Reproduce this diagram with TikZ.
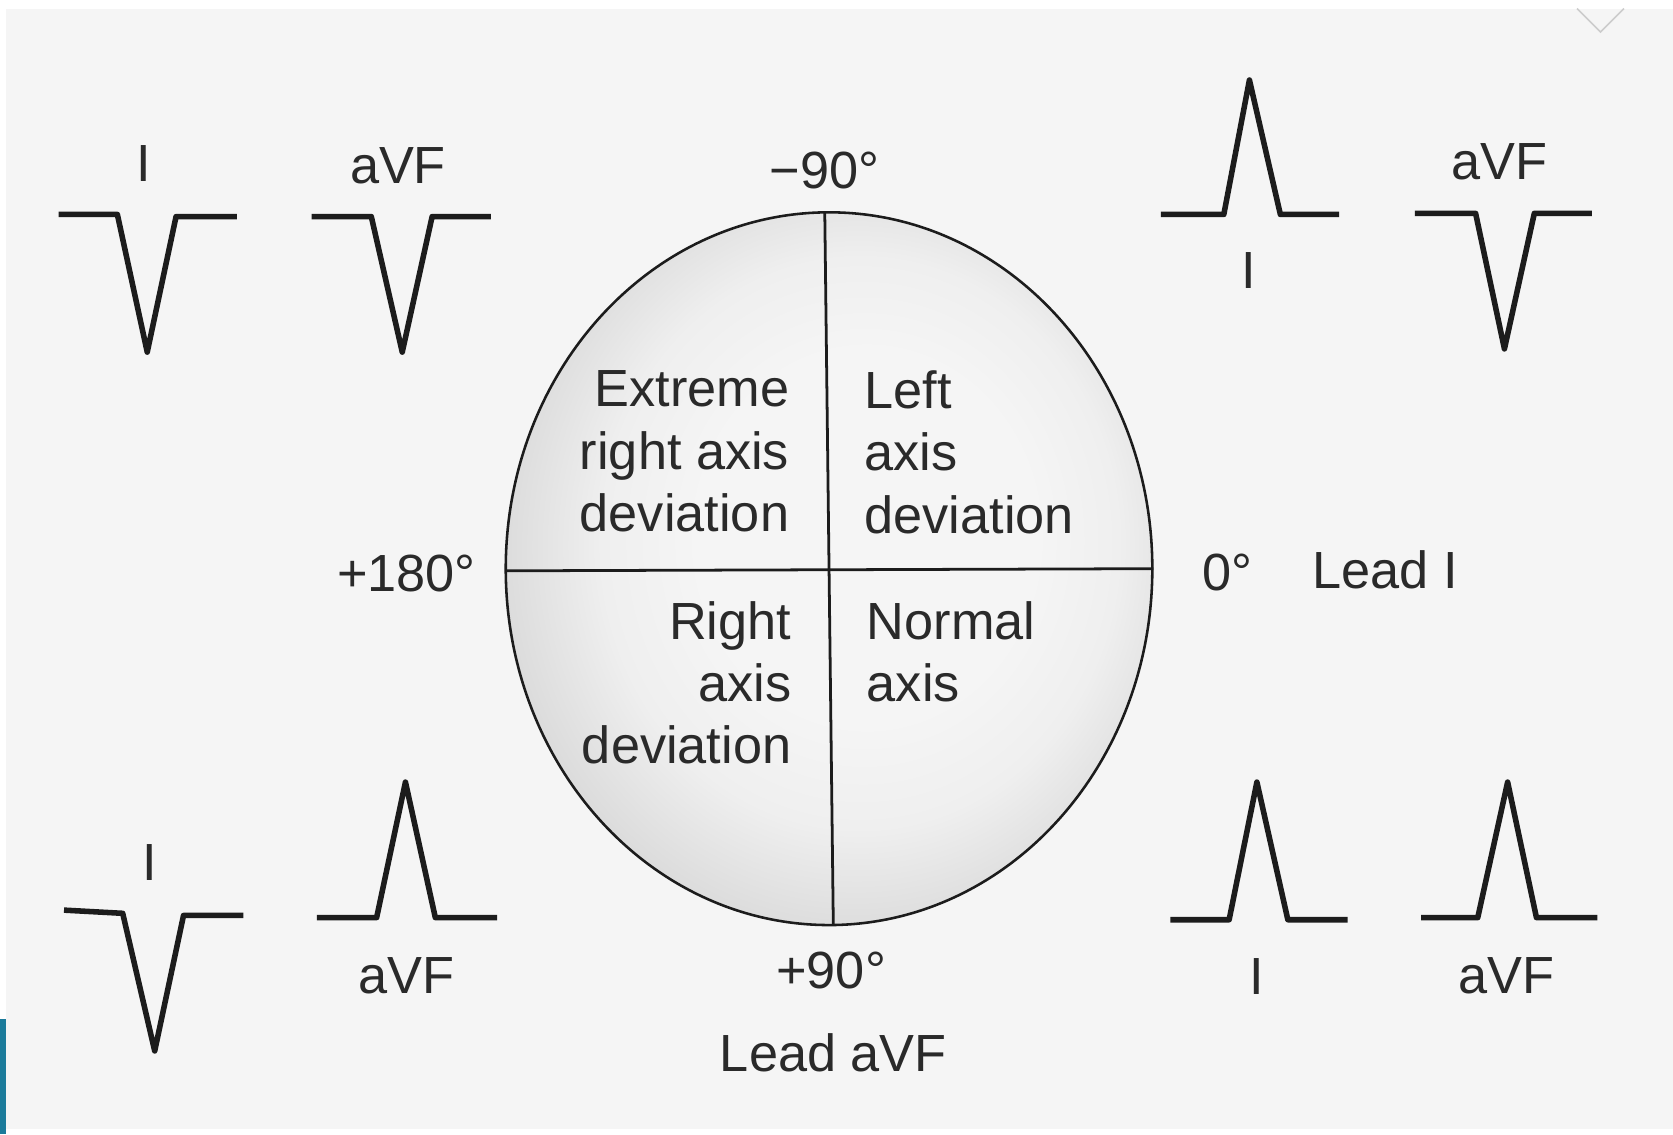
\documentclass[tikz,border=0pt]{standalone}
\usepackage{fontspec}
\setmainfont{Liberation Sans}
\definecolor{bgc}{HTML}{F5F5F5}
\definecolor{midc}{HTML}{EFEFEF}
\definecolor{dotc}{HTML}{DCDCDC}
\definecolor{ink}{HTML}{1C1C1C}
\definecolor{txt}{HTML}{2A2A2A}
\definecolor{tealbar}{HTML}{1B7B9B}
\pgfdeclareradialshading{stip}{\pgfpoint{4bp}{3bp}}{color(0bp)=(bgc); color(13bp)=(bgc); color(20bp)=(midc); color(27bp)=(dotc); color(50bp)=(dotc)}
\begin{document}
\begin{tikzpicture}[x=0.5pt,y=-0.5pt,
  wave/.style={draw=ink,line width=2.6pt,line join=round,line cap=butt},
  axisline/.style={draw=ink,line width=1.3pt},
  lbl/.style={inner sep=0pt,text=txt,font=\fontsize{24.5}{29.25}\selectfont},
  qlbl/.style={lbl,inner sep=0pt}]
% canvas
\useasboundingbox (0,0) rectangle (1568,1063);
\fill[white] (0,0) rectangle (1568,1063);
\fill[bgc] (6,8) rectangle (1568,1058);
\fill[tealbar] (0,955) rectangle (6,1063);
\draw[gray!40,line width=0.8pt] (1478,8) -- (1500,30) -- (1522,8);
% circle
\coordinate (C) at (777,533);
\shade[shading=stip] (C) ellipse [x radius=151.5pt, y radius=167pt];
\draw[ink,line width=1.2pt] (C) ellipse [x radius=151.5pt, y radius=167pt];
\coordinate (ntop) at (773,199);
\coordinate (nbot) at (781,866);
\coordinate (nlft) at (474,535);
\coordinate (nrgt) at (1081,533);
\draw[axisline] (ntop) -- (nbot);
\draw[axisline] (nlft) -- (nrgt);
% quadrant texts
\node[qlbl,align=right,anchor=north east] (ext) at (740,347) {Extreme\\right axis\\deviation};
\node[qlbl,align=left,anchor=north west] (lad) at (810,347) {Left\\axis\\deviation};
\node[qlbl,align=right,anchor=north east] (rad) at (742,563) {Right\\axis\\deviation};
\node[qlbl,align=left,anchor=north west] (nor) at (812,563) {Normal\\axis};
% angle labels
\node[lbl,anchor=base] (m90) at (773,177) {−90°};
\node[lbl,anchor=base] (p180) at (381,554) {+180°};
\node[lbl,anchor=base] (z0) at (1150,553) {0°};
\node[lbl,anchor=base] (leadI) at (1298,552) {Lead I};
\node[lbl,anchor=base] (p90) at (779,926) {+90°};
\node[lbl,anchor=base] (leadaVF) at (781,1004) {Lead aVF};
% top-left
\node[lbl,anchor=base] (tlI) at (135,170) {I};
\draw[wave] (55,201) -- (110,201) -- (138,330) -- (165,203) -- (222,203);
\node[lbl,anchor=base] (tlaVF) at (373,172) {aVF};
\draw[wave] (292,203) -- (348,203) -- (377,330) -- (405,203) -- (460,203);
% top-right
\draw[wave] (1088,201) -- (1147,201) -- (1171,75) -- (1200,201) -- (1255,201);
\node[lbl,anchor=base] (trI) at (1170,270) {I};
\node[lbl,anchor=base] (traVF) at (1405,168) {aVF};
\draw[wave] (1326,200) -- (1383,200) -- (1410,327) -- (1438,200) -- (1492,200);
% bottom-left
\node[lbl,anchor=base] (blI) at (140,825) {I};
\draw[wave] (60,853) -- (115,856) -- (145,985) -- (172,858) -- (228,858);
\draw[wave] (297,860) -- (353,860) -- (380,733) -- (408,860) -- (466,860);
\node[lbl,anchor=base] (blaVF) at (381,931) {aVF};
% bottom-right
\draw[wave] (1097,862) -- (1152,862) -- (1178,733) -- (1207,862) -- (1263,862);
\node[lbl,anchor=base] (brI) at (1178,932) {I};
\draw[wave] (1332,860) -- (1385,860) -- (1413,733) -- (1440,860) -- (1497,860);
\node[lbl,anchor=base] (braVF) at (1412,931) {aVF};
\end{tikzpicture}
\end{document}
